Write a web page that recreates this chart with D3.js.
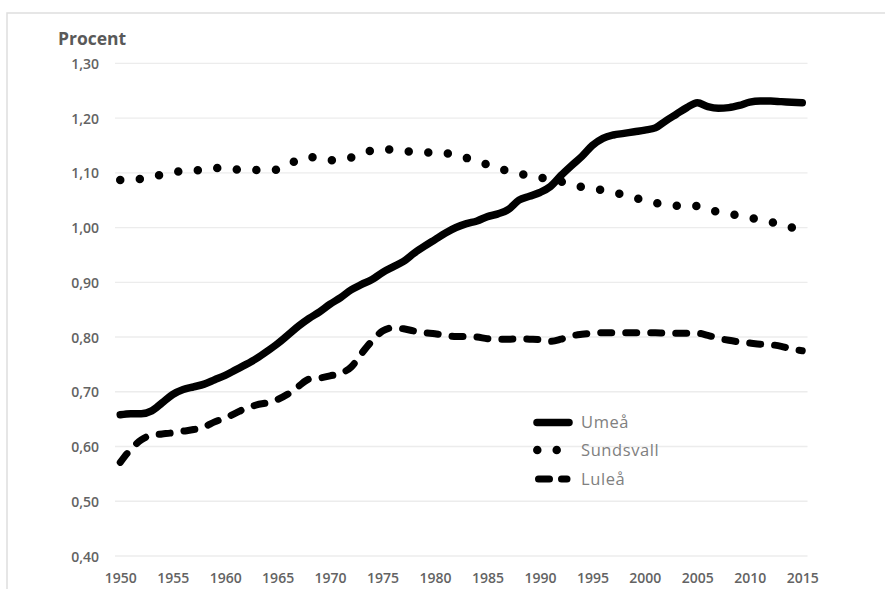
<!DOCTYPE html>
<html>
<head>
<meta charset="utf-8">
<script src="https://cdn.jsdelivr.net/npm/d3@7"></script>
<style>
  html, body { margin: 0; padding: 0; background: #fff; }
  svg { display: block; }
</style>
</head>
<body>
<svg id="chart" width="885" height="589"></svg>
<script>
const years = d3.range(1950, 2016);
const umea = [0.658,0.660,0.660,0.665,0.680,0.695,0.704,0.709,0.714,0.722,
  0.730,0.740,0.750,0.761,0.774,0.788,0.804,0.820,0.834,0.846,
  0.860,0.872,0.886,0.896,0.905,0.918,0.928,0.938,0.953,0.966,
  0.978,0.990,1.000,1.007,1.012,1.020,1.025,1.033,1.050,1.057,
  1.064,1.075,1.095,1.113,1.130,1.150,1.163,1.169,1.172,1.175,
  1.178,1.182,1.195,1.207,1.219,1.228,1.221,1.218,1.219,1.223,
  1.229,1.231,1.231,1.230,1.229,1.228];
const sundsvall = [1.087,1.088,1.089,1.092,1.097,1.101,1.103,1.104,1.106,1.109,
  1.108,1.106,1.105,1.105,1.105,1.106,1.115,1.124,1.129,1.126,
  1.123,1.125,1.128,1.135,1.141,1.143,1.142,1.140,1.138,1.137,
  1.137,1.136,1.132,1.127,1.121,1.115,1.109,1.103,1.099,1.094,
  1.091,1.088,1.084,1.079,1.074,1.071,1.068,1.064,1.060,1.055,
  1.049,1.045,1.042,1.040,1.040,1.039,1.034,1.028,1.025,1.022,
  1.018,1.014,1.010,1.006,1.000,0.993];
const lulea = [0.571,0.595,0.612,0.621,0.623,0.625,0.628,0.631,0.636,0.645,
  0.652,0.661,0.670,0.676,0.680,0.686,0.696,0.710,0.723,0.725,
  0.729,0.734,0.745,0.770,0.793,0.811,0.817,0.815,0.811,0.808,
  0.806,0.803,0.801,0.801,0.800,0.797,0.796,0.796,0.797,0.796,
  0.795,0.792,0.796,0.802,0.805,0.807,0.808,0.808,0.808,0.808,
  0.808,0.808,0.807,0.807,0.807,0.807,0.803,0.798,0.794,0.791,
  0.789,0.787,0.786,0.783,0.778,0.775];
const yTicks = [0.40,0.50,0.60,0.70,0.80,0.90,1.00,1.10,1.20,1.30];
const xTickYears = [1950,1955,1960,1965,1970,1975,1980,1985,1990,1995,2000,2005,2010,2015];
const seriesNames = ["Umeå","Sundsvall","Luleå"];

const svg = d3.select("#chart");
const font = "'Open Sans', 'Liberation Sans', sans-serif";

// outer border
svg.append("rect").attr("x",7).attr("y",13).attr("width",900).attr("height",600)
  .attr("fill","none").attr("stroke","#dedede").attr("stroke-width",1.5);

const x = d3.scalePoint().domain(years).range([115, 807.5]).padding(0.5);
const y = d3.scaleLinear().domain([0.4, 1.3]).range([556, 63.3]);

// gridlines
svg.append("g").selectAll("line").data(yTicks).join("line")
  .attr("x1",115).attr("x2",807.5)
  .attr("y1",d=>y(d)).attr("y2",d=>y(d))
  .attr("stroke","#ececec").attr("stroke-width",1.3);

// y axis labels
const yAxis = d3.axisLeft(y).tickValues(yTicks).tickSize(0).tickPadding(0)
  .tickFormat(d => d3.format(".2f")(d).replace(".", ","));
const gy = svg.append("g").attr("transform","translate(99,0)").call(yAxis);
gy.select(".domain").remove();
gy.selectAll("text").attr("font-family",font).attr("font-size","14px")
  .attr("font-weight",600).attr("fill","#636363").attr("dy","0.36em");

// x axis labels
const xAxis = d3.axisBottom(x).tickValues(xTickYears).tickSize(0).tickPadding(0);
const gx = svg.append("g").attr("transform","translate(0,572.5)").call(xAxis);
gx.select(".domain").remove();
gx.selectAll("text").attr("font-family",font).attr("font-size","14px")
  .attr("font-weight",600).attr("fill","#636363").attr("dy","0.78em");

// title
svg.append("text").attr("x",58).attr("y",45).text("Procent")
  .attr("font-family",font).attr("font-size","17.5px").attr("font-weight",700)
  .attr("fill","#595959");

const line = d3.line().x((d,i)=>x(years[i])).y(d=>y(d)).curve(d3.curveMonotoneX);

const styles = [
  {data: umea, width: 7.5, dash: null},
  {data: sundsvall, width: 8.5, dash: "0 19.6"},
  {data: lulea, width: 7, dash: "11 14"}
];

svg.append("g").selectAll("path").data(styles).join("path")
  .attr("d", d=>line(d.data))
  .attr("fill","none").attr("stroke","#000")
  .attr("stroke-width", d=>d.width)
  .attr("stroke-linecap","round").attr("stroke-linejoin","round")
  .attr("stroke-dasharray", d=>d.dash);

// legend
const legY = [422.5, 450, 479];
const lg = svg.append("g");
lg.append("line").attr("x1",537).attr("x2",569).attr("y1",legY[0]).attr("y2",legY[0])
  .attr("stroke","#000").attr("stroke-width",7.5).attr("stroke-linecap","round");
lg.append("line").attr("x1",537.3).attr("x2",560).attr("y1",legY[1]).attr("y2",legY[1])
  .attr("stroke","#000").attr("stroke-width",8.5).attr("stroke-linecap","round")
  .attr("stroke-dasharray","0 19.4");
lg.append("line").attr("x1",538.5).attr("x2",567).attr("y1",legY[2]).attr("y2",legY[2])
  .attr("stroke","#000").attr("stroke-width",7).attr("stroke-linecap","round")
  .attr("stroke-dasharray","11 12");
lg.selectAll("text").data(seriesNames).join("text")
  .attr("x",581).attr("y",(d,i)=>legY[i]).attr("dy","0.36em")
  .text(d=>d)
  .attr("font-family",font).attr("font-size","16.5px").attr("letter-spacing","0.6px")
  .attr("fill","#808080");
</script>
</body>
</html>
